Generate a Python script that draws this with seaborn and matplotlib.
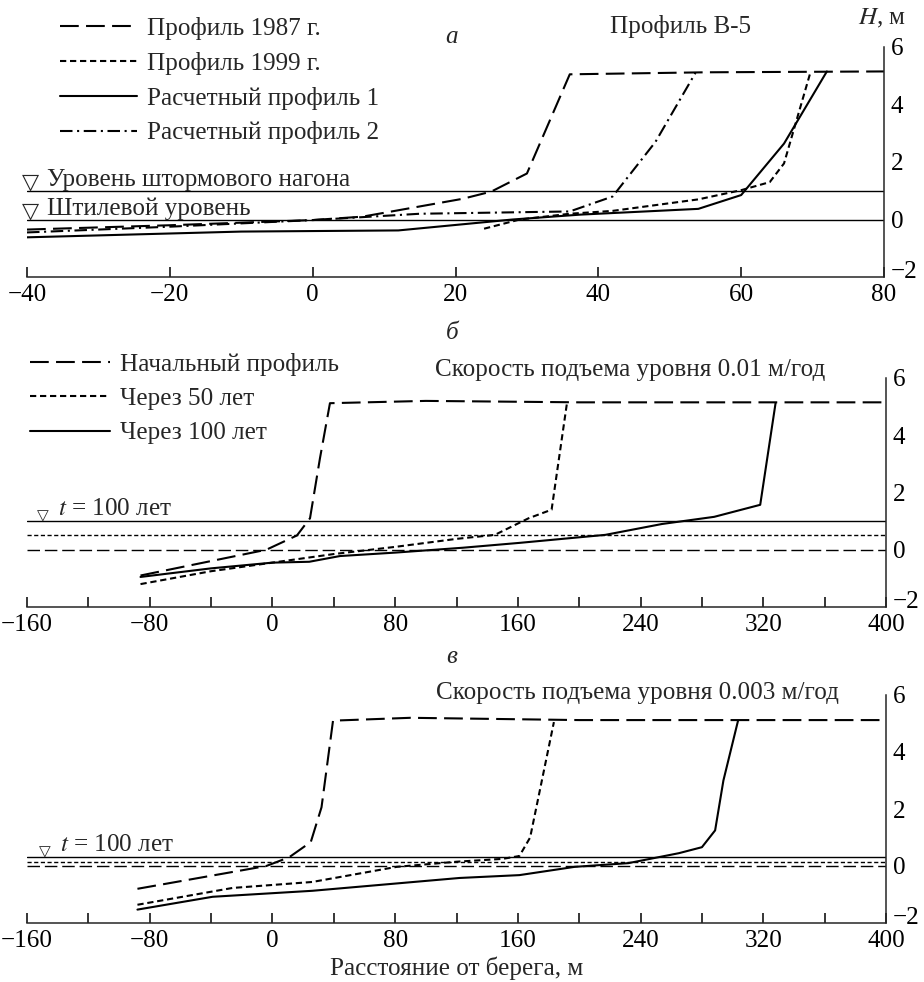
import numpy as np
import pandas as pd
import matplotlib
matplotlib.use("Agg")
import matplotlib.pyplot as plt
import matplotlib.transforms as mtransforms
from matplotlib.ticker import MultipleLocator
import seaborn as sns

# --- панель а: профиль В-5 ---
a_x_1987 = [-40, -20, 0, 7, 21, 25, 30, 36, 55, 80]
a_y_1987 = [-0.35, -0.2, -0.02, 0.1, 0.72, 0.97, 1.6, 5.05, 5.12, 5.15]
a_x_1999 = [24, 29, 36, 42, 54, 60, 64, 66, 69.7]
a_y_1999 = [-0.32, 0.0, 0.2, 0.3, 0.7, 1.02, 1.3, 1.95, 5.12]
a_x_calc1 = [-40, -10, 12, 28, 37.5, 54, 60, 66, 72]
a_y_calc1 = [-0.62, -0.42, -0.38, 0.0, 0.17, 0.37, 0.85, 2.64, 5.15]
a_x_calc2 = [-40, -20, 0, 15, 36, 42, 48, 53.6]
a_y_calc2 = [-0.45, -0.25, -0.02, 0.2, 0.28, 0.8, 2.7, 5.1]
a_levels = [1.0, 0.0]
a_level_names = ["Уровень штормового нагона", "Штилевой уровень"]
a_legend = ["Профиль 1987 г.", "Профиль 1999 г.", "Расчетный профиль 1", "Расчетный профиль 2"]

# --- панель б: 0.01 м/год ---
b_x_init = [-86, -4, 16, 24.5, 31, 37.5, 100, 200, 400]
b_y_init = [-0.9, 0.0, 0.5, 1.1, 3.2, 5.12, 5.2, 5.15, 5.15]
b_x_50 = [-86, -40, 0, 40, 80, 120, 145, 167, 182, 192]
b_y_50 = [-1.2, -0.75, -0.45, -0.15, 0.1, 0.38, 0.52, 1.1, 1.4, 5.12]
b_x_100 = [-86, -40, 0, 24, 44, 80, 124, 161, 217, 254, 288, 318, 328]
b_y_100 = [-0.95, -0.65, -0.45, -0.42, -0.22, -0.1, 0.07, 0.24, 0.52, 0.9, 1.15, 1.57, 5.12]
b_levels = [0.0, 0.5, 1.0]

# --- панель в: 0.003 м/год ---
c_x_init = [-88, -4, 11, 25, 32, 39.5, 90, 200, 400]
c_y_init = [-0.8, 0.0, 0.31, 0.84, 2.06, 5.1, 5.2, 5.12, 5.12]
c_x_50 = [-88, -26, 26, 81, 120, 150, 161, 168, 183.5]
c_y_50 = [-1.36, -0.77, -0.56, -0.03, 0.15, 0.25, 0.35, 1.0, 5.05]
c_x_100 = [-88, -39, 26, 122, 161, 197, 232, 265, 280, 288.6, 294, 303.5]
c_y_100 = [-1.53, -1.08, -0.87, -0.42, -0.32, -0.03, 0.1, 0.45, 0.66, 1.25, 3.0, 5.09]
c_levels = [0.0, 0.15, 0.3]

bc_legend = ["Начальный профиль", "Через 50 лет", "Через 100 лет"]

sns.set_style("ticks")
plt.rcParams["font.family"] = ["Liberation Serif", "DejaVu Sans"]
plt.rcParams["mathtext.fontset"] = "stix"
FS = 18.1
plt.rcParams["font.size"] = FS

LONG = (0, (9, 3.5))
SHORT = (0, (3, 1.8))
DASHDOT = (0, (6, 2.2, 1, 2.2))
SOLID = "-"
LW = 1.5
W, H = 924, 982

fig = plt.figure(figsize=(W / 100, H / 100), dpi=100)


def px_axes(x0, x1, y0, y1):
    return fig.add_axes([x0 / W, 1 - y1 / H, (x1 - x0) / W, (y1 - y0) / H])


def setup(ax, xlim, xmaj, xmin=None):
    ax.set_xlim(*xlim)
    ax.set_ylim(-2, 6)
    ax.yaxis.tick_right()
    sns.despine(ax=ax, left=True, top=True, right=False)
    for s in ["bottom", "right"]:
        ax.spines[s].set_linewidth(1.1)
    ax.yaxis.set_major_locator(MultipleLocator(2))
    ax.yaxis.set_minor_locator(MultipleLocator(1))
    ax.xaxis.set_major_locator(MultipleLocator(xmaj))
    if xmin:
        ax.xaxis.set_minor_locator(MultipleLocator(xmin))
    ax.tick_params(which="both", direction="in", length=7, width=1.1,
                   labelsize=FS, pad=5, colors="black")
    ax.set_xlabel("")
    ax.set_ylabel("")


def lift_bottom_label(ax):
    # подпись −2 чуть выше, чтобы не налезала на последнюю подпись оси x
    locs = ax.yaxis.get_majorticklocs()
    ticks = ax.yaxis.get_major_ticks(len(locs))
    for tick, loc in zip(ticks, locs):
        if abs(loc + 2) < 1e-9:
            lbl = tick.label2
            lbl.set_transform(lbl.get_transform() +
                              mtransforms.ScaledTranslation(0, 7 / 100, fig.dpi_scale_trans))


def line(ax, x, y, ls, lw=LW, label=None):
    sns.lineplot(x=x, y=y, ax=ax, color="black", linestyle=ls, linewidth=lw,
                 sort=False, estimator=None, label=label, legend=False)
    return ax.lines[-1]


def triangle(ax, y, dx, size):
    ax.annotate("▽", xy=(0, y), xycoords=("axes fraction", "data"),
                xytext=(dx, -2), textcoords="offset pixels",
                ha="center", va="bottom", fontsize=size, family="DejaVu Sans")


# ---------------- а ----------------
ax_a = px_axes(27, 884, 47, 277)
for lvl in a_levels:
    ax_a.axhline(lvl, color="black", linewidth=1.0)
h1 = line(ax_a, a_x_1987, a_y_1987, LONG)
h2 = line(ax_a, a_x_1999, a_y_1999, SHORT)
h3 = line(ax_a, a_x_calc1, a_y_calc1, SOLID)
h4 = line(ax_a, a_x_calc2, a_y_calc2, DASHDOT)
setup(ax_a, (-40, 80), 20)
for lvl, name in zip(a_levels, a_level_names):
    triangle(ax_a, lvl, 3, 16)
    ax_a.annotate(name, xy=(0, lvl), xycoords=("axes fraction", "data"),
                  xytext=(20, 5), textcoords="offset pixels",
                  ha="left", va="baseline", fontsize=FS)
ax_a.legend([h1, h2, h3, h4], a_legend, loc="upper left",
            bbox_to_anchor=(60 / W, 1 - 17 / H), bbox_transform=fig.transFigure,
            frameon=False, borderpad=0, borderaxespad=0, handlelength=3.06,
            handletextpad=0.4, labelspacing=0.47, fontsize=FS)
fig.text(452 / W, 1 - 37 / H, "а", style="italic", ha="center", va="center", fontsize=FS)
fig.text(681 / W, 1 - 27 / H, "Профиль В-5", ha="center", va="center", fontsize=FS)
fig.text(882 / W, 1 - 18 / H, "$H$, м", ha="center", va="center", fontsize=FS)

# ---------------- б ----------------
ax_b = px_axes(27, 886, 378, 607)
ax_b.axhline(b_levels[0], color="black", linestyle=LONG, linewidth=1.0)
ax_b.axhline(b_levels[1], color="black", linestyle=SHORT, linewidth=1.0)
ax_b.axhline(b_levels[2], color="black", linestyle=SOLID, linewidth=1.0)
g1 = line(ax_b, b_x_init, b_y_init, LONG)
g2 = line(ax_b, b_x_50, b_y_50, SHORT)
g3 = line(ax_b, b_x_100, b_y_100, SOLID)
setup(ax_b, (-160, 400), 80, 40)
triangle(ax_b, b_levels[2], 16, 11)
ax_b.annotate("$t$ = 100 лет", xy=(0, b_levels[2]), xycoords=("axes fraction", "data"),
              xytext=(31, 6), textcoords="offset pixels",
              ha="left", va="baseline", fontsize=FS)
ax_b.legend([g1, g2, g3], bc_legend, loc="upper left",
            bbox_to_anchor=(30 / W, 1 - 353 / H), bbox_transform=fig.transFigure,
            frameon=False, borderpad=0, borderaxespad=0, handlelength=3.18,
            handletextpad=0.4, labelspacing=0.46, fontsize=FS)
fig.text(452 / W, 1 - 333 / H, "б", style="italic", ha="center", va="center", fontsize=FS)
fig.text(825 / W, 1 - 370 / H, "Скорость подъема уровня 0.01 м/год",
         ha="right", va="center", fontsize=FS)

# ---------------- в ----------------
ax_c = px_axes(27, 886, 695, 923)
ax_c.axhline(c_levels[0], color="black", linestyle=LONG, linewidth=1.0)
ax_c.axhline(c_levels[1], color="black", linestyle=SHORT, linewidth=1.0)
ax_c.axhline(c_levels[2], color="black", linestyle=SOLID, linewidth=1.0)
line(ax_c, c_x_init, c_y_init, LONG)
line(ax_c, c_x_50, c_y_50, SHORT)
line(ax_c, c_x_100, c_y_100, SOLID)
setup(ax_c, (-160, 400), 80, 40)
triangle(ax_c, c_levels[2], 18, 11)
ax_c.annotate("$t$ = 100 лет", xy=(0, c_levels[2]), xycoords=("axes fraction", "data"),
              xytext=(33, 6), textcoords="offset pixels",
              ha="left", va="baseline", fontsize=FS)
fig.text(452 / W, 1 - 657 / H, "в", style="italic", ha="center", va="center", fontsize=FS)
fig.text(839 / W, 1 - 693 / H, "Скорость подъема уровня 0.003 м/год",
         ha="right", va="center", fontsize=FS)
ax_c.set_xlabel("Расстояние от берега, м", fontsize=FS, labelpad=3)

for ax in (ax_a, ax_b, ax_c):
    lift_bottom_label(ax)

fig.savefig("out.png", dpi=100)
